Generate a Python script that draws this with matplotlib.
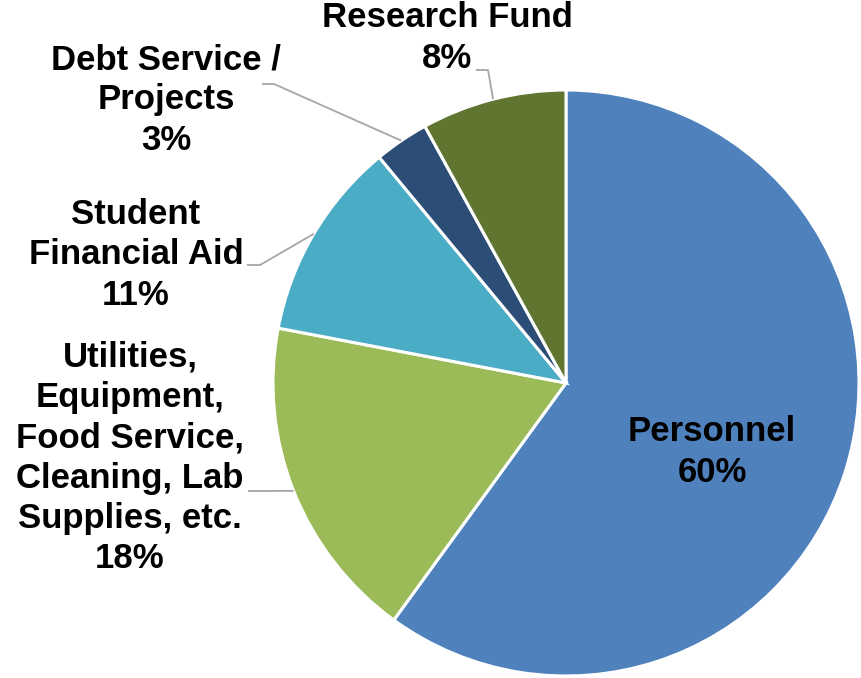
import numpy as np
import matplotlib
matplotlib.use("Agg")
import matplotlib.pyplot as plt

categories = ["Personnel", "Utilities,\nEquipment,\nFood Service,\nCleaning, Lab\nSupplies, etc.",
              "Student\nFinancial Aid", "Debt Service /\nProjects", "Research Fund"]
values = [60, 18, 11, 3, 8]
colors = ["#4F81BD", "#9BBB59", "#4BACC6", "#2C4D75", "#5F7530"]

W, H = 862, 678
fig = plt.figure(figsize=(W / 100, H / 100), dpi=100)

cx, cy, r = 566, 383, 293
ax2 = fig.add_axes([0, 0, 1, 1])
wedges, _ = ax2.pie(values, colors=colors, startangle=90, counterclock=False,
                    center=(cx, H - cy), radius=r, frame=True,
                    wedgeprops=dict(edgecolor="white", linewidth=2.2))
ax2.set_xlim(0, W)
ax2.set_ylim(0, H)
ax2.axis("off")

ax = fig.add_axes([0, 0, 1, 1])
ax.set_xlim(0, W)
ax.set_ylim(H, 0)
ax.axis("off")
ax.patch.set_alpha(0)

font = dict(family="Liberation Sans", fontweight="bold", fontsize=25, color="black",
            ha="center", va="center", linespacing=1.28)

# label positions in pixel coords (x, y from top)
label_pos = [(712, 452), (130, 458), (136, 255), (166, 100), (447, 38)]
elbows = [None, (248, 259, 491), (247, 260, 265), (262, 274, 84), (476, 488, 70)]

for i, (w, cat, v) in enumerate(zip(wedges, categories, values)):
    x, y = label_pos[i]
    ax.text(x, y, f"{cat}\n{v}%", **font)
    if elbows[i] is not None:
        mid = np.deg2rad((w.theta1 + w.theta2) / 2)
        ex = cx + r * np.cos(mid)
        ey = cy - r * np.sin(mid)
        x0, x1, yy = elbows[i]
        ax.plot([x0, x1, ex], [yy, yy, ey], color="#A6A6A6", lw=1.3, solid_capstyle="butt")

fig.savefig("out.png", dpi=100)
